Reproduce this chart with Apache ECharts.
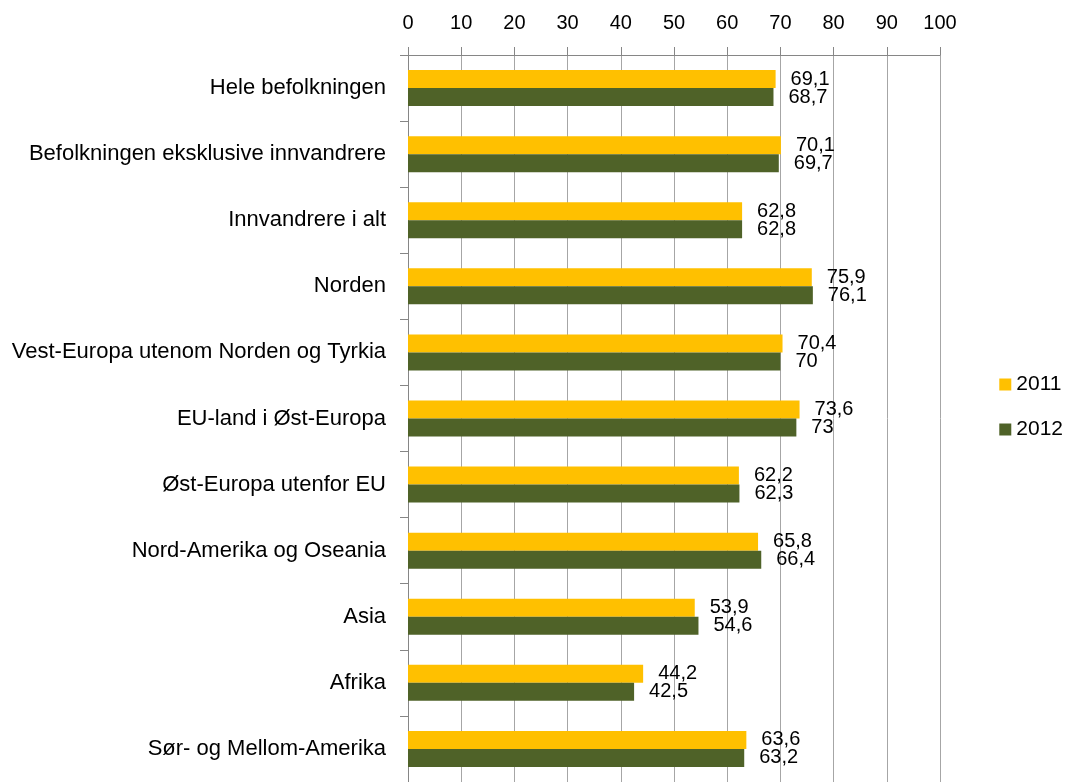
<!DOCTYPE html>
<html><head><meta charset="utf-8">
<script src="https://cdn.jsdelivr.net/npm/echarts@6/dist/echarts.min.js"></script>
<style>html,body{margin:0;padding:0;background:#fff}#c{width:1066px;height:782px}</style>
</head><body><div id="c"></div>
<script>
const categories = ["Hele befolkningen","Befolkningen eksklusive innvandrere","Innvandrere i alt","Norden","Vest-Europa utenom Norden og Tyrkia","EU-land i Øst-Europa","Øst-Europa utenfor EU","Nord-Amerika og Oseania","Asia","Afrika","Sør- og Mellom-Amerika"];
const values2011 = [69.1,70.1,62.8,75.9,70.4,73.6,62.2,65.8,53.9,44.2,63.6];
const values2012 = [68.7,69.7,62.8,76.1,70,73,62.3,66.4,54.6,42.5,63.2];
const seriesNames = ["2011","2012"];
const FONT = "Liberation Sans";
const chart = echarts.init(document.getElementById('c'));
const lbl = {show:true,position:'right',distance:15,color:'#000',fontFamily:FONT,fontSize:20,
  formatter:p=>String(p.value).replace('.',',')};
chart.setOption({
  animation:false,
  textStyle:{fontFamily:FONT},
  grid:{left:408,top:55,width:532,height:734,containLabel:false},
  legend:{orient:'vertical',right:-2,top:369,itemWidth:12,itemHeight:12,itemGap:24,icon:'rect',
    textStyle:{fontFamily:FONT,fontSize:21,color:'#000'},data:seriesNames},
  xAxis:{type:'value',position:'top',min:0,max:100,interval:10,
    axisLine:{show:true,lineStyle:{color:'#868686'}},
    axisTick:{show:true,length:8,lineStyle:{color:'#868686'}},
    axisLabel:{fontFamily:FONT,fontSize:20,color:'#000',margin:22},
    splitLine:{show:true,lineStyle:{color:'#a6a6a6'}}},
  yAxis:{type:'category',inverse:true,data:categories,
    axisLine:{show:true,lineStyle:{color:'#868686'}},
    axisTick:{show:true,length:8,lineStyle:{color:'#868686'}},
    axisLabel:{fontFamily:FONT,fontSize:22,color:'#000',margin:22}},
  series:[
    {name:seriesNames[0],type:'bar',data:values2011,barWidth:18,barGap:'0%',itemStyle:{color:'#FFC000'},label:lbl},
    {name:seriesNames[1],type:'bar',data:values2012,barWidth:18,barGap:'0%',itemStyle:{color:'#4F6228'},label:lbl}
  ]
});
</script></body></html>
